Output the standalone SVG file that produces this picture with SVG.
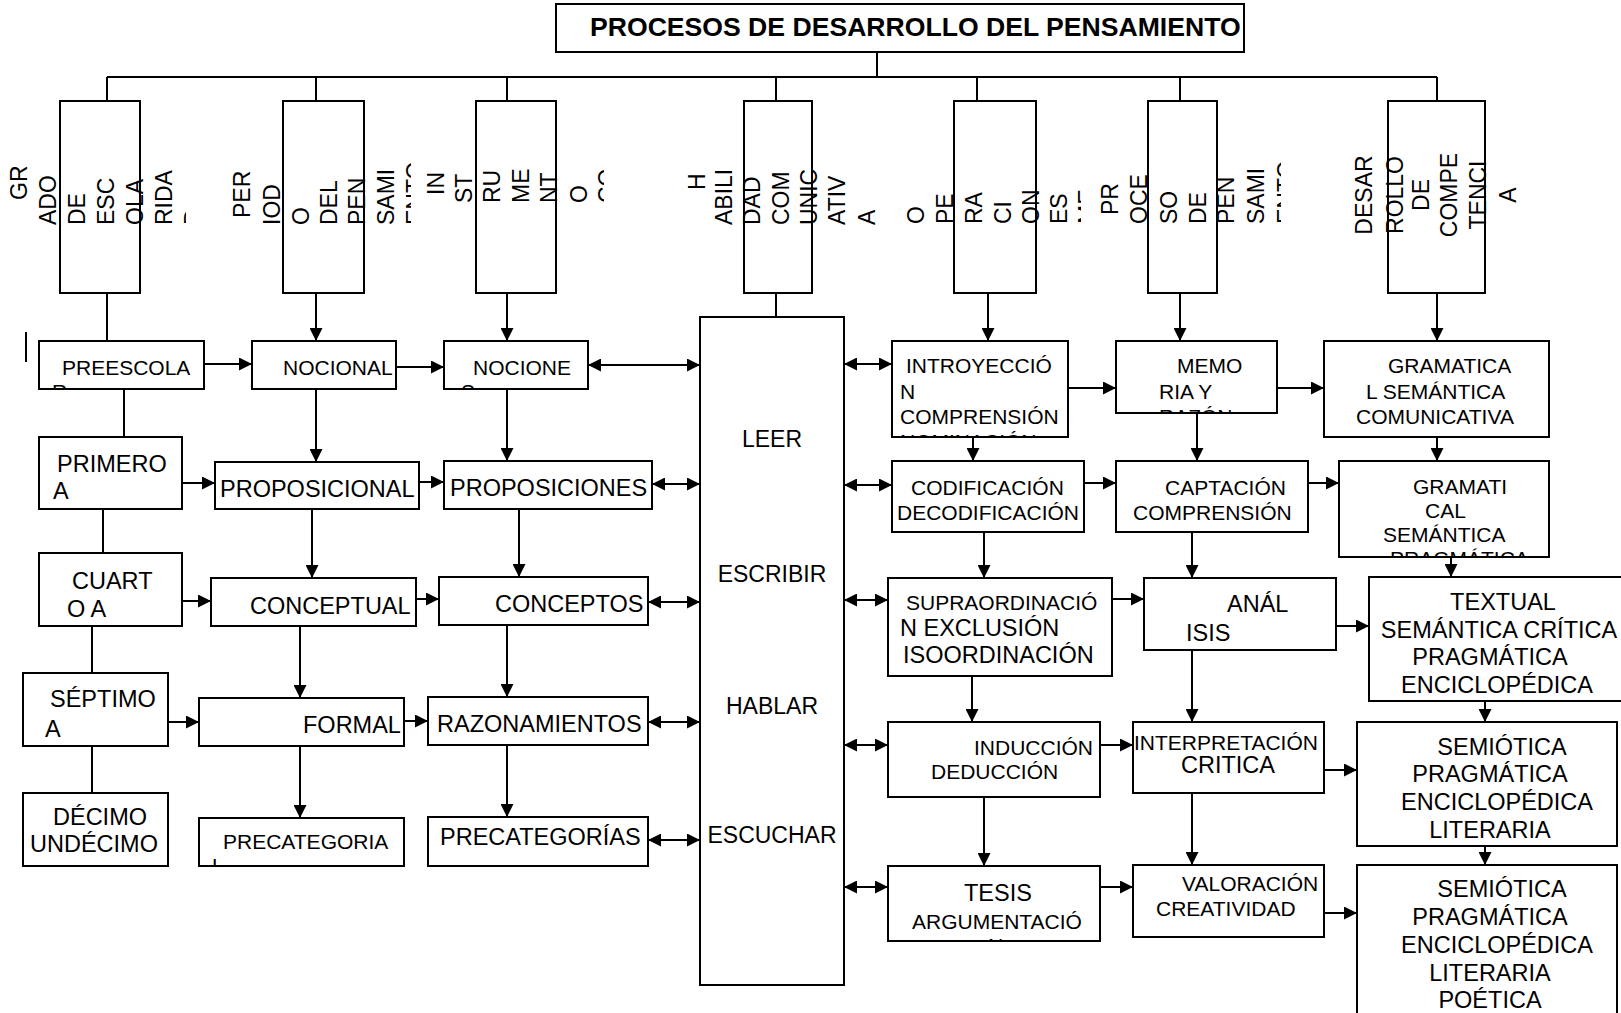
<svg xmlns="http://www.w3.org/2000/svg" width="1621" height="1013" viewBox="0 0 1621 1013">
<style>
.box{fill:#fff;stroke:#000;stroke-width:2}
.hbox{fill:none;stroke:#000;stroke-width:2}
.c{fill:none;stroke:#000;stroke-width:2}
.a{marker-end:url(#ah)}
.d{marker-start:url(#ah);marker-end:url(#ah)}
text{font-family:"Liberation Sans",Arial,sans-serif;fill:#000}
.h{font-size:23px}
.s{font-size:21px}
.m{font-size:23.5px}
.ttl{font-size:26.6px;font-weight:bold}
</style>
<defs>
<marker id="ah" viewBox="0 0 10 10" refX="10" refY="5" markerWidth="13" markerHeight="13" markerUnits="userSpaceOnUse" orient="auto-start-reverse"><path d="M0,0 L10,5 L0,10 z" fill="#000"/></marker>
<clipPath id="k1"><rect x="0" y="90" width="186" height="160"/></clipPath>
<clipPath id="k2"><rect x="186" y="90" width="225" height="160"/></clipPath>
<clipPath id="k3"><rect x="411" y="90" width="193" height="160"/></clipPath>
<clipPath id="k5"><rect x="880" y="90" width="201" height="160"/></clipPath>
<clipPath id="k6"><rect x="1081" y="90" width="200" height="160"/></clipPath>
<clipPath id="cPre"><rect x="39" y="341" width="165" height="48"/></clipPath>
<clipPath id="cNoc"><rect x="444" y="341" width="144" height="48"/></clipPath>
<clipPath id="cIntro"><rect x="892" y="341" width="176" height="96"/></clipPath>
<clipPath id="cMem"><rect x="1116" y="341" width="161" height="72"/></clipPath>
<clipPath id="cGram2"><rect x="1339" y="461" width="210" height="96"/></clipPath>
<clipPath id="cTes"><rect x="888" y="866" width="212" height="75"/></clipPath>
<clipPath id="cPrecat"><rect x="199" y="818" width="205" height="48"/></clipPath>
</defs>

<g id="connectors">
<path class="c" d="M107,77 H1437 M877,52 V77 M107,77 V101 M316,77 V101 M507,77 V101 M776,77 V101 M977,77 V101 M1180,77 V101 M1437,77 V101"/>
<path class="c" d="M107,293 V341 M776,293 V317 M124,389 V437 M103,509 V553 M92,626 V673 M92,746 V793"/>
<path class="c a" d="M316,293 V341"/>
<path class="c a" d="M507,293 V341"/>
<path class="c a" d="M988,293 V341"/>
<path class="c a" d="M1180,293 V341"/>
<path class="c a" d="M1437,293 V341"/>
<path class="c a" d="M204,364 H252"/>
<path class="c a" d="M182,483 H215"/>
<path class="c a" d="M182,601 H211"/>
<path class="c a" d="M168,722 H199"/>
<path class="c a" d="M396,367 H444"/>
<path class="c a" d="M419,482 H444"/>
<path class="c a" d="M416,599 H439"/>
<path class="c a" d="M404,721 H428"/>
<path class="c a" d="M316,389 V462"/>
<path class="c a" d="M312,509 V578"/>
<path class="c a" d="M300,626 V698"/>
<path class="c a" d="M300,746 V818"/>
<path class="c a" d="M507,389 V461"/>
<path class="c a" d="M519,509 V577"/>
<path class="c a" d="M507,625 V697"/>
<path class="c a" d="M507,745 V817"/>
<path class="c d" d="M588,365 H700"/>
<path class="c d" d="M652,484 H700"/>
<path class="c d" d="M648,602 H700"/>
<path class="c d" d="M648,722 H700"/>
<path class="c d" d="M648,840 H700"/>
<path class="c d" d="M844,364 H892"/>
<path class="c d" d="M844,485 H892"/>
<path class="c d" d="M844,600 H888"/>
<path class="c d" d="M844,745 H888"/>
<path class="c d" d="M844,887 H888"/>
<path class="c a" d="M973,437 V461"/>
<path class="c a" d="M984,532 V578"/>
<path class="c a" d="M972,676 V722"/>
<path class="c a" d="M984,797 V866"/>
<path class="c a" d="M1197,413 V461"/>
<path class="c a" d="M1192,532 V578"/>
<path class="c a" d="M1192,650 V722"/>
<path class="c a" d="M1192,793 V865"/>
<path class="c a" d="M1437,437 V461"/>
<path class="c a" d="M1451,557 V577"/>
<path class="c a" d="M1485,701 V722"/>
<path class="c a" d="M1485,846 V865"/>
<path class="c a" d="M1068,388 H1116"/>
<path class="c a" d="M1277,388 H1324"/>
<path class="c a" d="M1084,483 H1116"/>
<path class="c a" d="M1308,483 H1339"/>
<path class="c a" d="M1112,599 H1144"/>
<path class="c a" d="M1336,626 H1369"/>
<path class="c a" d="M1100,745 H1133"/>
<path class="c a" d="M1324,770 H1357"/>
<path class="c a" d="M1100,887 H1133"/>
<path class="c a" d="M1324,913 H1357"/>
</g>

<g id="title">
<rect class="box" x="556" y="4" width="688" height="48"/>
<text class="ttl" x="590" y="36">PROCESOS DE DESARROLLO DEL PENSAMIENTO</text>
</g>

<g id="h-grado">
<rect class="hbox" x="60" y="101" width="80" height="192"/>
<g class="h" clip-path="url(#k1)">
<text transform="translate(27,200) rotate(-90)">GR</text>
<text transform="translate(56,225) rotate(-90)">ADO</text>
<text transform="translate(85,225) rotate(-90)">DE</text>
<text transform="translate(114,225) rotate(-90)">ESC</text>
<text transform="translate(143,225) rotate(-90)">OLA</text>
<text transform="translate(172,225) rotate(-90)">RIDA</text>
<text transform="translate(201,225) rotate(-90)">D</text>
</g>
</g>

<g id="h-periodo">
<rect class="hbox" x="283" y="101" width="81" height="192"/>
<g class="h" clip-path="url(#k2)">
<text transform="translate(250,218) rotate(-90)">PER</text>
<text transform="translate(280,225) rotate(-90)">IOD</text>
<text transform="translate(309,225) rotate(-90)">O</text>
<text transform="translate(337,225) rotate(-90)">DEL</text>
<text transform="translate(365,225) rotate(-90)">PEN</text>
<text transform="translate(394,225) rotate(-90)">SAMI</text>
<text transform="translate(423,225) rotate(-90)">ENTO</text>
</g>
</g>

<g id="h-instrumento">
<rect class="hbox" x="476" y="101" width="80" height="192"/>
<g class="h" clip-path="url(#k3)">
<text transform="translate(444,195) rotate(-90)">IN</text>
<text transform="translate(472,203) rotate(-90)">ST</text>
<text transform="translate(500,203) rotate(-90)">RU</text>
<text transform="translate(529,203) rotate(-90)">ME</text>
<text transform="translate(557,203) rotate(-90)">NT</text>
<text transform="translate(587,203) rotate(-90)">O</text>
<text transform="translate(615,203) rotate(-90)">CO</text>
</g>
</g>

<g id="h-habilidad">
<rect class="hbox" x="744" y="101" width="68" height="192"/>
<g class="h">
<text transform="translate(705,190) rotate(-90)">H</text>
<text transform="translate(732,225) rotate(-90)">ABILI</text>
<text transform="translate(760,225) rotate(-90)">DAD</text>
<text transform="translate(789,225) rotate(-90)">COM</text>
<text transform="translate(817,225) rotate(-90)">UNIC</text>
<text transform="translate(845,225) rotate(-90)">ATIV</text>
<text transform="translate(875,225) rotate(-90)">A</text>
</g>
</g>

<g id="h-operaciones">
<rect class="hbox" x="954" y="101" width="82" height="192"/>
<g class="h" clip-path="url(#k5)">
<text transform="translate(924,224) rotate(-90)">O</text>
<text transform="translate(953,224) rotate(-90)">PE</text>
<text transform="translate(982,224) rotate(-90)">RA</text>
<text transform="translate(1011,224) rotate(-90)">CI</text>
<text transform="translate(1039,224) rotate(-90)">ON</text>
<text transform="translate(1067,224) rotate(-90)">ES</text>
<text transform="translate(1095,224) rotate(-90)">ME</text>
</g>
</g>

<g id="h-proceso">
<rect class="hbox" x="1148" y="101" width="69" height="192"/>
<g class="h" clip-path="url(#k6)">
<text transform="translate(1118,215) rotate(-90)">PR</text>
<text transform="translate(1147,224) rotate(-90)">OCE</text>
<text transform="translate(1177,224) rotate(-90)">SO</text>
<text transform="translate(1206,224) rotate(-90)">DE</text>
<text transform="translate(1234,224) rotate(-90)">PEN</text>
<text transform="translate(1264,224) rotate(-90)">SAMI</text>
<text transform="translate(1294,224) rotate(-90)">ENTO</text>
</g>
</g>

<g id="h-competencia">
<rect class="hbox" x="1388" y="101" width="97" height="192"/>
<g class="h" text-anchor="middle">
<text transform="translate(1372,195) rotate(-90)">DESAR</text>
<text transform="translate(1403,195) rotate(-90)">ROLLO</text>
<text transform="translate(1429,195) rotate(-90)">DE</text>
<text transform="translate(1457,195) rotate(-90)">COMPE</text>
<text transform="translate(1486,195) rotate(-90)">TENCI</text>
<text transform="translate(1516,195) rotate(-90)">A</text>
</g>
</g>

<g id="mark"><path class="c" d="M26,332 V362"/></g>

<g id="n-preescolar">
<rect class="box" x="39" y="341" width="165" height="48"/>
<g class="s" clip-path="url(#cPre)"><text x="62" y="375">PREESCOLA</text><text x="52" y="399">R</text></g>
</g>
<g id="n-primero">
<rect class="box" x="39" y="437" width="143" height="72"/>
<text class="m" x="57" y="472">PRIMERO</text><text class="m" x="53" y="499">A</text>
</g>
<g id="n-cuarto">
<rect class="box" x="39" y="553" width="143" height="73"/>
<text class="m" x="72" y="589">CUART</text><text class="m" x="67" y="617">O A</text>
</g>
<g id="n-septimo">
<rect class="box" x="23" y="673" width="145" height="73"/>
<text class="m" x="50" y="707">SÉPTIMO</text><text class="m" x="45" y="737">A</text>
</g>
<g id="n-decimo">
<rect class="box" x="23" y="793" width="145" height="73"/>
<text class="m" x="53" y="825">DÉCIMO</text><text class="m" x="30" y="852">UNDÉCIMO</text>
</g>

<g id="n-nocional">
<rect class="box" x="252" y="341" width="144" height="48"/>
<text class="s" x="283" y="375">NOCIONAL</text>
</g>
<g id="n-proposicional">
<rect class="box" x="215" y="462" width="204" height="47"/>
<text class="m" x="220" y="497">PROPOSICIONAL</text>
</g>
<g id="n-conceptual">
<rect class="box" x="211" y="578" width="205" height="48"/>
<text class="m" x="250" y="614">CONCEPTUAL</text>
</g>
<g id="n-formal">
<rect class="box" x="199" y="698" width="205" height="48"/>
<text class="m" x="303" y="733">FORMAL</text>
</g>
<g id="n-precategoria">
<rect class="box" x="199" y="818" width="205" height="48"/>
<g class="s" clip-path="url(#cPrecat)"><text x="223" y="849">PRECATEGORIA</text><text x="212" y="873">L</text></g>
</g>

<g id="n-nociones">
<rect class="box" x="444" y="341" width="144" height="48"/>
<g class="s" clip-path="url(#cNoc)"><text x="473" y="375">NOCIONE</text><text x="461" y="399">S</text></g>
</g>
<g id="n-proposiciones">
<rect class="box" x="444" y="461" width="208" height="48"/>
<text class="m" x="450" y="496">PROPOSICIONES</text>
</g>
<g id="n-conceptos">
<rect class="box" x="439" y="577" width="209" height="48"/>
<text class="m" x="495" y="612">CONCEPTOS</text>
</g>
<g id="n-razonamientos">
<rect class="box" x="428" y="697" width="220" height="48"/>
<text class="m" x="437" y="732">RAZONAMIENTOS</text>
</g>
<g id="n-precategorias">
<rect class="box" x="428" y="817" width="220" height="49"/>
<text class="m" x="440" y="845">PRECATEGORÍAS</text>
</g>

<g id="n-habilidades">
<rect class="box" x="700" y="317" width="144" height="668"/>
<g class="h" text-anchor="middle">
<text x="772" y="447">LEER</text>
<text x="772" y="582">ESCRIBIR</text>
<text x="772" y="714">HABLAR</text>
<text x="772" y="843">ESCUCHAR</text>
</g>
</g>

<g id="n-introyeccion">
<rect class="box" x="892" y="341" width="176" height="96"/>
<g class="s" clip-path="url(#cIntro)"><text x="906" y="373">INTROYECCIÓ</text><text x="900" y="399">N</text><text x="900" y="424">COMPRENSIÓN</text><text x="900" y="449">NOMINACIÓN</text></g>
</g>
<g id="n-codificacion">
<rect class="box" x="892" y="461" width="192" height="71"/>
<text class="s" x="911" y="495">CODIFICACIÓN</text><text class="s" x="897" y="520">DECODIFICACIÓN</text>
</g>
<g id="n-supraordinacion">
<rect class="box" x="888" y="578" width="224" height="98"/>
<text class="s" x="906" y="610">SUPRAORDINACIÓ</text><text class="m" x="900" y="636">N EXCLUSIÓN</text><text class="m" x="903" y="663">ISOORDINACIÓN</text>
</g>
<g id="n-induccion">
<rect class="box" x="888" y="722" width="212" height="75"/>
<text class="s" x="974" y="755">INDUCCIÓN</text><text class="s" x="931" y="779">DEDUCCIÓN</text>
</g>
<g id="n-tesis">
<rect class="box" x="888" y="866" width="212" height="75"/>
<g clip-path="url(#cTes)"><text class="m" x="964" y="901">TESIS</text><text class="s" x="912" y="929">ARGUMENTACIÓ</text><text class="s" x="988" y="953">N</text></g>
</g>

<g id="n-memoria">
<rect class="box" x="1116" y="341" width="161" height="72"/>
<g class="s" clip-path="url(#cMem)"><text x="1177" y="373">MEMO</text><text x="1159" y="399">RIA Y</text><text x="1159" y="424">RAZÓN</text></g>
</g>
<g id="n-captacion">
<rect class="box" x="1116" y="461" width="192" height="71"/>
<text class="s" x="1165" y="495">CAPTACIÓN</text><text class="s" x="1133" y="520">COMPRENSIÓN</text>
</g>
<g id="n-analisis">
<rect class="box" x="1144" y="578" width="192" height="72"/>
<text class="m" x="1227" y="612">ANÁL</text><text class="m" x="1186" y="641">ISIS</text>
</g>
<g id="n-interpretacion">
<rect class="box" x="1133" y="722" width="191" height="71"/>
<text class="s" x="1134" y="750">INTERPRETACIÓN</text><text class="m" x="1181" y="773">CRITICA</text>
</g>
<g id="n-valoracion">
<rect class="box" x="1133" y="865" width="191" height="72"/>
<text class="s" x="1182" y="891">VALORACIÓN</text><text class="s" x="1156" y="916">CREATIVIDAD</text>
</g>

<g id="n-gramatical1">
<rect class="box" x="1324" y="341" width="225" height="96"/>
<text class="s" x="1388" y="373">GRAMATICA</text><text class="s" x="1366" y="399">L SEMÁNTICA</text><text class="s" x="1356" y="424">COMUNICATIVA</text>
</g>
<g id="n-gramatical2">
<rect class="box" x="1339" y="461" width="210" height="96"/>
<g class="s" clip-path="url(#cGram2)"><text x="1413" y="494">GRAMATI</text><text x="1425" y="518">CAL</text><text x="1383" y="542">SEMÁNTICA</text><text x="1390" y="566">PRAGMÁTICA</text></g>
</g>
<g id="n-textual">
<rect class="box" x="1369" y="577" width="270" height="124"/>
<g class="m" text-anchor="middle"><text x="1503" y="610">TEXTUAL</text><text x="1499" y="638">SEMÁNTICA CRÍTICA</text><text x="1490" y="665">PRAGMÁTICA</text><text x="1497" y="693">ENCICLOPÉDICA</text></g>
</g>
<g id="n-semiotica1">
<rect class="box" x="1357" y="722" width="260" height="124"/>
<g class="m" text-anchor="middle"><text x="1502" y="755">SEMIÓTICA</text><text x="1490" y="782">PRAGMÁTICA</text><text x="1497" y="810">ENCICLOPÉDICA</text><text x="1490" y="838">LITERARIA</text></g>
</g>
<g id="n-semiotica2">
<rect class="box" x="1357" y="865" width="260" height="160"/>
<g class="m" text-anchor="middle"><text x="1502" y="897">SEMIÓTICA</text><text x="1490" y="925">PRAGMÁTICA</text><text x="1497" y="953">ENCICLOPÉDICA</text><text x="1490" y="981">LITERARIA</text><text x="1490" y="1008">POÉTICA</text></g>
</g>
</svg>
